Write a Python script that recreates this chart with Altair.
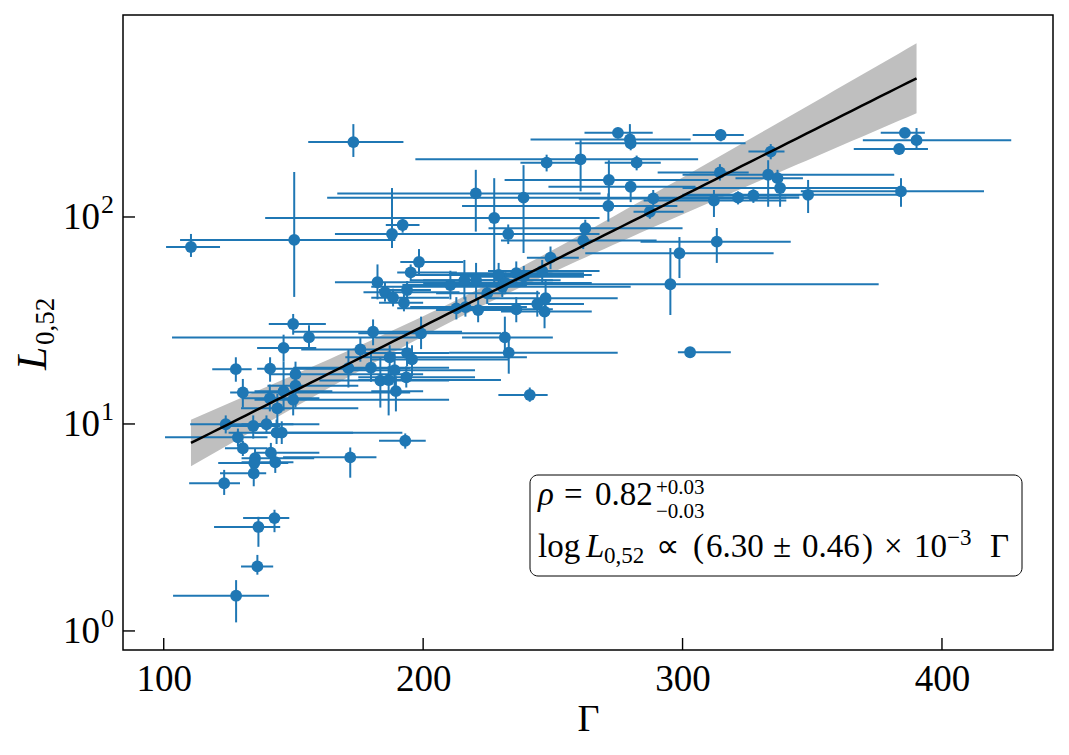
import altair as alt
import numpy as np
import pandas as pd

# Lorentz factor and luminosity of each burst, with 1-sigma ranges
gamma = [173.1, 110.5, 150.3, 247.6, 260.7, 220.3, 238.7, 227.4, 232.8, 188.0,
         192.1, 198.4, 195.2, 182.4, 185.3, 188.4, 192.6, 193.8, 210.5, 215.9,
         220.4, 224.7, 229.1, 231.7, 235.9, 238.8, 230.5, 245.9, 249.1, 247.2,
         244.0, 246.8, 235.9, 221.2, 212.8, 216.3, 262.5, 261.7, 180.7, 199.2,
         231.5, 233.0, 175.8, 187.1, 193.8, 195.7, 179.9, 189.0, 183.5, 186.7,
         193.5, 189.5, 241.1, 193.1, 171.9, 171.2, 149.9, 156.0, 146.2, 127.8,
         141.0, 150.8, 150.8, 130.5, 146.2, 140.9, 149.9, 143.8, 123.9, 134.5,
         139.6, 143.5, 145.5, 128.6, 130.5, 141.3, 135.2, 134.9, 143.0, 134.7,
         123.3, 142.7, 136.5, 136.1, 127.9, 275.1, 279.7, 280.0, 314.7, 282.3,
         334.0, 314.4, 271.6, 280.0, 333.0, 336.6, 337.6, 288.7, 312.1, 321.4,
         327.3, 348.4, 271.4, 287.4, 313.2, 298.8, 295.3, 302.9, 385.7, 390.2,
         383.5, 384.2]
gamma_lo = [155.7, 100.9, 106.3, 237.5, 197.0, 166.9, 163.0, 139.1, 183.0, 166.0,
            185.6, 191.2, 190.0, 166.0, 177.0, 180.0, 183.0, 183.0, 192.0, 195.0,
            200.0, 205.0, 195.0, 200.0, 210.0, 215.0, 180.0, 225.0, 240.0, 225.0,
            225.0, 230.0, 220.0, 205.0, 190.0, 195.0, 225.2, 230.0, 150.0, 175.0,
            215.0, 210.0, 153.0, 170.0, 175.0, 180.0, 150.0, 170.0, 160.0, 175.0,
            175.0, 180.0, 229.0, 183.0, 146.0, 150.0, 140.5, 103.2, 136.0, 118.7,
            136.0, 140.5, 140.0, 125.6, 135.0, 130.0, 135.0, 129.8, 110.2, 125.0,
            130.0, 125.0, 135.0, 100.5, 123.6, 135.0, 130.0, 121.0, 130.0, 121.7,
            109.8, 130.6, 119.4, 129.8, 103.6, 262.2, 241.4, 258.6, 303.9, 270.0,
            325.4, 290.4, 231.4, 248.3, 300.0, 320.4, 300.0, 260.0, 285.0, 300.0,
            300.0, 300.0, 215.0, 281.1, 283.8, 262.5, 235.6, 298.2, 376.4, 369.5,
            366.0, 345.6]
gamma_hi = [192.4, 121.7, 189.3, 260.0, 306.0, 268.4, 340.0, 268.0, 268.0, 205.0,
            198.6, 215.5, 213.0, 214.0, 214.0, 210.0, 200.0, 203.0, 240.0, 253.0,
            250.0, 245.0, 265.0, 265.0, 262.0, 262.0, 280.0, 268.0, 260.0, 275.0,
            262.0, 265.0, 250.0, 238.0, 235.0, 240.0, 300.0, 290.0, 215.0, 230.0,
            250.0, 275.0, 196.0, 240.0, 210.0, 233.0, 210.0, 220.0, 210.0, 230.0,
            220.0, 200.0, 248.0, 201.0, 182.0, 195.0, 162.5, 200.0, 158.8, 133.9,
            180.0, 200.0, 175.0, 195.0, 165.0, 160.0, 210.0, 175.0, 160.0, 145.0,
            150.0, 192.0, 173.0, 140.0, 140.0, 160.0, 158.0, 148.0, 150.0, 139.5,
            129.4, 148.4, 144.9, 142.2, 140.6, 288.5, 303.1, 324.3, 323.6, 291.6,
            339.3, 325.5, 310.0, 305.0, 381.6, 346.4, 384.2, 320.0, 340.0, 345.0,
            345.0, 384.0, 298.0, 300.4, 341.7, 335.1, 375.6, 318.6, 393.4, 426.7,
            394.6, 416.2]
lum = [230, 71.6, 77.5, 183, 190, 130, 124, 98.9, 82.8, 82.8,
       91.5, 60.6, 54.0, 48.4, 43.3, 40.7, 38.5, 44.4, 46.9, 49.5,
       49.5, 42.8, 52.5, 48.0, 53.5, 51.5, 46.0, 54.8, 63.6, 40.5,
       38.0, 34.9, 35.8, 35.5, 36.2, 36.7, 88.2, 76.9, 27.9, 27.4,
       26.2, 22.1, 22.9, 21.0, 22.0, 20.5, 18.7, 18.2, 16.2, 16.3,
       16.8, 14.4, 13.8, 8.3, 6.9, 18.6, 30.4, 26.2, 23.3, 18.4,
       18.5, 17.4, 15.3, 14.2, 14.4, 13.3, 13.1, 11.9, 9.97, 9.78,
       9.97, 9.08, 9.08, 8.62, 7.63, 7.27, 6.83, 6.48, 6.53, 5.78,
       5.17, 3.51, 3.18, 2.05, 1.48, 255, 237, 227, 249, 183,
       207, 164, 151, 140, 160, 154, 138, 123, 120, 124,
       127, 128, 113, 106, 76.0, 66.8, 47.3, 22.2, 255, 235,
       213, 133]
lum_lo = [195, 64.1, 41.1, 166, 133, 85, 67, 48.5, 74, 70.8,
          84, 52, 49, 40, 39, 37, 35, 40, 40, 40,
          40, 38, 46, 43, 47, 46, 41, 48, 56, 33,
          33, 29, 31, 31, 32, 33, 80, 70, 24, 23,
          21, 17.5, 20, 18.5, 19, 17, 16, 15, 12, 11,
          15, 11.5, 12.8, 7.6, 5.5, 15, 27, 23, 20, 16,
          16, 15, 12, 12, 11.6, 11.5, 11, 10, 9.0, 8.5,
          9.0, 8.0, 8.0, 7.8, 7.0, 6.5, 6.1, 5.7, 5.8, 5.0,
          4.54, 3.0, 2.55, 1.87, 1.10, 240, 213, 210, 232, 168,
          190, 150, 121, 118, 112, 140, 112, 112, 100, 115,
          117, 104.5, 95, 98, 60, 50.7, 33.6, 21, 245, 215,
          200, 112]
lum_hi = [281, 82.8, 165, 200, 235, 169, 178, 154, 92, 138,
          100, 70, 59, 59, 48, 45, 42, 49, 55, 62,
          60, 48, 60, 54, 61, 58, 52, 62, 72, 50,
          44, 42, 41, 41, 41, 41, 97, 85, 32, 33,
          33, 27, 26, 24, 25, 24, 22, 22, 21, 19,
          19, 17, 15, 9.0, 7.7, 23, 34, 30, 27, 21,
          21, 20, 17.5, 16.5, 20, 15.5, 15, 14, 11, 11,
          11, 10.5, 10.3, 9.5, 8.3, 8.1, 7.6, 7.2, 7.3, 6.6,
          6.0, 3.85, 3.56, 2.33, 1.76, 270, 281, 245, 266, 198,
          225, 180, 188, 151, 188, 169, 160, 135, 135, 133,
          136, 151, 130, 114, 88.5, 80, 70.8, 23.5, 268, 269,
          226, 154]

# y tick values and their decade exponents
y_ticks = [1, 10, 100]
y_exponents = ["0", "1", "2"]
x_ticks = [100, 200, 300, 400]

# Best-fit relation log L = a + b * Gamma and its confidence band
FIT_INTERCEPT = 0.212
FIT_SLOPE = 6.30e-3
BAND_FLOOR = 0.045
BAND_SLOPE = 0.95e-3
BAND_PIVOT = 219.0

pts = pd.DataFrame({"g": gamma, "glo": gamma_lo, "ghi": gamma_hi,
                    "L": lum, "Llo": lum_lo, "Lhi": lum_hi})

grid = np.linspace(min(gamma), max(gamma), 80)
logfit = FIT_INTERCEPT + FIT_SLOPE * grid
half = np.sqrt(BAND_FLOOR ** 2 + (BAND_SLOPE * (grid - BAND_PIVOT)) ** 2)
fit = pd.DataFrame({"g": grid, "fit": 10 ** logfit,
                    "lo": 10 ** (logfit - half), "hi": 10 ** (logfit + half)})

BLUE = "#1f77b4"
FONT = "Liberation Serif"
W, H = 930, 635
LEFT, TOP = 123, 15

xs = alt.Scale(domain=[84.3, 442.8], nice=False, zero=False)
ys = alt.Scale(type="log", domain=[0.809, 946], nice=False)

x_axis = alt.Axis(values=x_ticks, format="d", title="Γ", grid=False,
                  domain=False, ticks=False, labelFont=FONT, labelFontSize=37,
                  labelColor="black", labelPadding=11, titleFont=FONT,
                  titleFontSize=38, titleFontWeight="normal", titleColor="black",
                  titlePadding=3)
y_axis = alt.Axis(values=y_ticks, title=None, grid=False, domain=False,
                  ticks=False, labels=False)


def X(field):
    return alt.X(field, scale=xs, axis=x_axis)


def Y(field):
    return alt.Y(field, scale=ys, axis=y_axis)


band = alt.Chart(fit).mark_area(color="#bfbfbf", opacity=1).encode(
    x=X("g:Q"), y=Y("lo:Q"), y2="hi:Q",
)
xbars = alt.Chart(pts).mark_rule(color=BLUE, strokeWidth=2).encode(
    x=X("glo:Q"), x2="ghi:Q", y=Y("L:Q"),
)
ybars = alt.Chart(pts).mark_rule(color=BLUE, strokeWidth=2).encode(
    x=X("g:Q"), y=Y("Llo:Q"), y2="Lhi:Q",
)
dots = alt.Chart(pts).mark_circle(color=BLUE, opacity=1, size=140).encode(
    x=X("g:Q"), y=Y("L:Q"),
)
line = alt.Chart(fit).mark_line(color="black", strokeWidth=2.5).encode(
    x=X("g:Q"), y=Y("fit:Q"),
)

# inward-pointing major ticks
xticks = alt.Chart(pd.DataFrame({"v": x_ticks})).mark_rule(
    color="black", strokeWidth=1.4).encode(
    x=X("v:Q"), y=alt.value(H), y2=alt.value(H - 12))
ydec = pd.DataFrame({"v": y_ticks, "e": y_exponents})
yticks = alt.Chart(ydec).mark_rule(color="black", strokeWidth=1.4).encode(
    y=Y("v:Q"), x=alt.value(0), x2=alt.value(12))

# decade labels 10^n on the log axis
ybase = alt.Chart(ydec).mark_text(
    text="10", font=FONT, fontSize=37, align="right", baseline="middle",
    color="black", dy=1).encode(y=Y("v:Q"), x=alt.value(100 - LEFT))
yexp = alt.Chart(ydec).mark_text(
    font=FONT, fontSize=26, align="left", baseline="middle",
    color="black", dy=-12).encode(y=Y("v:Q"), x=alt.value(101 - LEFT), text="e:N")

one = alt.Data(values=[{"k": 1}])


def txt(s, px, py, size=33, italic=False, align="left", angle=0):
    return alt.Chart(one).mark_text(
        text=s, font=FONT, fontSize=size, align=align, baseline="alphabetic",
        fontStyle="italic" if italic else "normal", angle=angle, color="black",
    ).encode(x=alt.value(px - LEFT), y=alt.value(py - TOP))


# y-axis title L_{0,52}
ytitle = [
    txt("L", 46, 370, size=42, italic=True, angle=270),
    txt("0,52", 54, 345, size=27, angle=270),
]

# annotation box with the correlation and slope
box = alt.Chart(one).mark_rect(
    fill="white", stroke="black", strokeWidth=1, cornerRadius=8
).encode(x=alt.value(530 - LEFT), x2=alt.value(1022 - LEFT),
         y=alt.value(475 - TOP), y2=alt.value(576 - TOP))

note = [
    txt("ρ", 538, 505, italic=True),
    txt("=", 564, 505),
    txt("0.82", 595, 505),
    txt("+0.03", 656, 494, size=21),
    txt("−0.03", 656, 518, size=21),
    txt("log", 538, 557),
    txt("L", 586, 557, italic=True),
    txt("0,52", 604, 563, size=23),
    txt("∝", 656, 557),
    txt("(", 693, 557),
    txt("6.30", 706, 557),
    txt("±", 773, 557),
    txt("0.46", 802, 557),
    txt(")", 862, 557),
    txt("×", 884, 557),
    txt("10", 914, 557),
    txt("−3", 947, 545, size=23),
    txt("Γ", 990, 557),
]

chart = alt.layer(
    band, xbars, ybars, dots, line, xticks, yticks, ybase, yexp, box, *note, *ytitle
).properties(
    width=W, height=H,
    autosize=alt.AutoSizeParams(type="none"),
    padding={"left": LEFT, "top": TOP, "right": 1069 - LEFT - W, "bottom": 755 - TOP - H},
    background="white",
).configure_view(stroke="black", strokeWidth=1.5)

chart.save("out.html", embed_options={"renderer": "svg", "actions": False})
